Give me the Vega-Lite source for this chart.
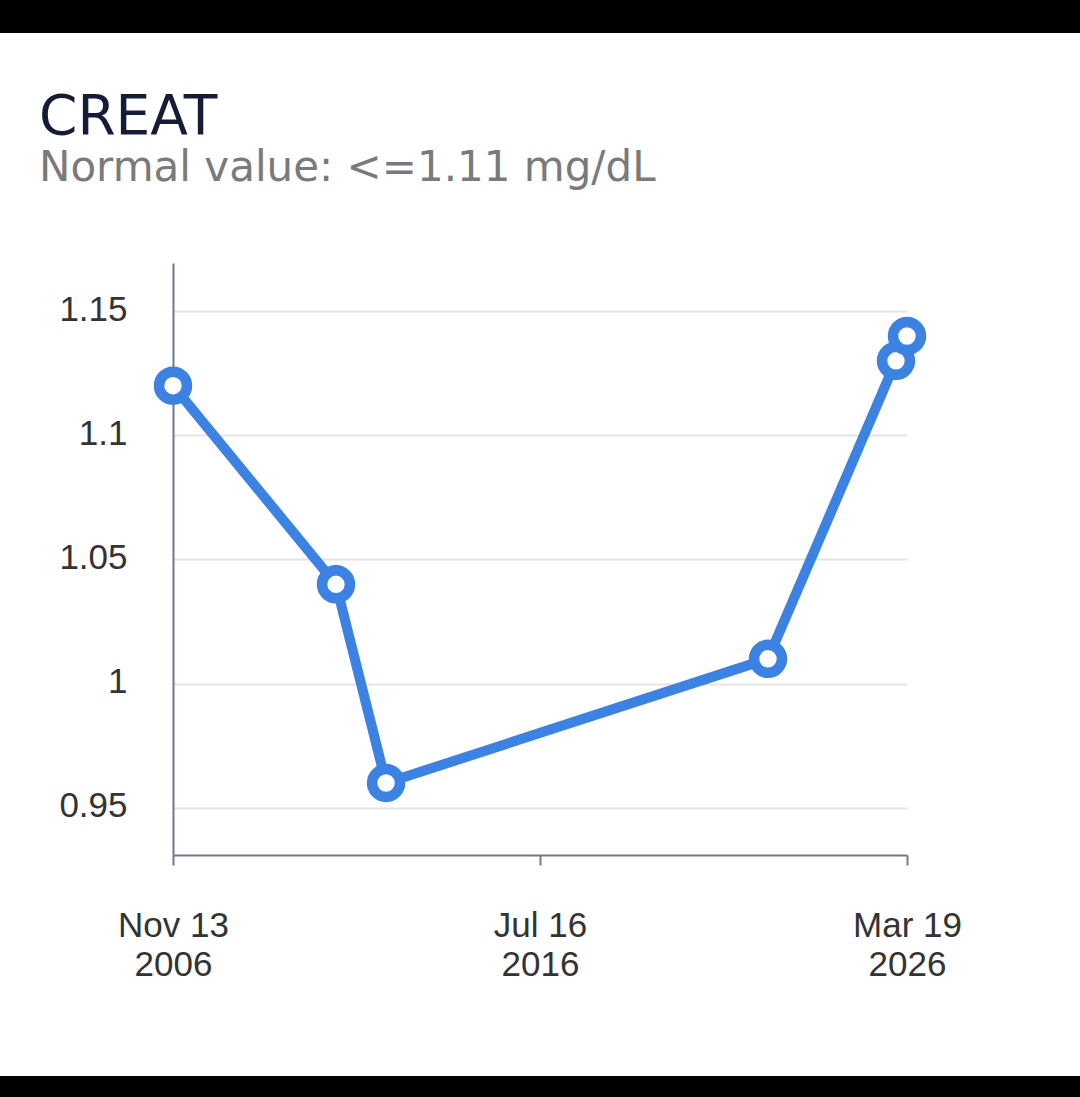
{
  "$schema": "https://vega.github.io/schema/vega-lite/v6.json",
  "width": 1080,
  "height": 1043,
  "autosize": {"type": "none"},
  "padding": {"top": 33, "bottom": 21, "left": 0, "right": 0},
  "background": "#000000",
  "title": {
    "text": "CREAT",
    "subtitle": "Normal value: <=1.11 mg/dL",
    "anchor": "start",
    "frame": "group",
    "orient": "top",
    "offset": -157,
    "dx": 39,
    "font": "DejaVu Sans",
    "fontSize": 55,
    "fontWeight": "normal",
    "color": "#141c36",
    "subtitleFont": "DejaVu Sans",
    "subtitleFontSize": 42,
    "subtitleColor": "#7a7a7a",
    "subtitlePadding": 2
  },
  "data": {
    "values": [
      {"date": "2006-11-13", "creat": 1.12},
      {"date": "2011-03-01", "creat": 1.04},
      {"date": "2012-06-25", "creat": 0.96},
      {"date": "2022-07-20", "creat": 1.01},
      {"date": "2025-12-03", "creat": 1.13},
      {"date": "2026-03-19", "creat": 1.14}
    ]
  },
  "encoding": {
    "x": {
      "field": "date",
      "type": "temporal",
      "scale": {
        "type": "utc",
        "domain": [
          {"year": 2006, "month": 11, "date": 13, "utc": true},
          {"year": 2026, "month": 3, "date": 19, "utc": true}
        ],
        "range": [173, 907],
        "nice": false
      },
      "axis": {
        "title": null,
        "orient": "bottom",
        "offset": -221,
        "grid": false,
        "values": [
          {"year": 2006, "month": 11, "date": 13, "utc": true},
          {"year": 2016, "month": 7, "date": 16, "utc": true},
          {"year": 2026, "month": 3, "date": 19, "utc": true}
        ],
        "labelExpr": "[utcFormat(datum.value, '%b %d'), utcFormat(datum.value, '%Y')]",
        "labelFont": "Liberation Sans",
        "labelFontSize": 35,
        "labelColor": "#333333",
        "labelLineHeight": 39,
        "labelPadding": 43,
        "labelOverlap": false,
        "labelFlush": false,
        "labelBound": false,
        "domainColor": "#6f7c88",
        "domainWidth": 2,
        "tickColor": "#6f7c88",
        "tickWidth": 2,
        "tickSize": 10
      }
    },
    "y": {
      "field": "creat",
      "type": "quantitative",
      "scale": {
        "domain": [0.931, 1.1694],
        "range": [822, 230],
        "nice": false,
        "zero": false
      },
      "axis": {
        "title": null,
        "orient": "left",
        "offset": -173,
        "values": [0.95, 1, 1.05, 1.1, 1.15],
        "format": "~g",
        "ticks": false,
        "tickSize": 0,
        "labelPadding": 46,
        "labelFont": "Liberation Sans",
        "labelFontSize": 35,
        "labelColor": "#333333",
        "labelOffset": -2,
        "labelOverlap": false,
        "labelBound": false,
        "domainColor": "#6f7c88",
        "domainWidth": 2,
        "grid": true,
        "gridColor": "#e4e4e4",
        "gridWidth": 2
      }
    }
  },
  "layer": [
    {
      "mark": {"type": "line", "color": "#3b82e3", "strokeWidth": 10, "strokeJoin": "round", "strokeCap": "round"}
    },
    {
      "mark": {"type": "point", "shape": "circle", "filled": true, "fill": "#ffffff", "stroke": "#3b82e3", "strokeWidth": 10.5, "size": 780, "opacity": 1}
    }
  ],
  "config": {
    "view": {"fill": "#ffffff", "stroke": null}
  }
}
